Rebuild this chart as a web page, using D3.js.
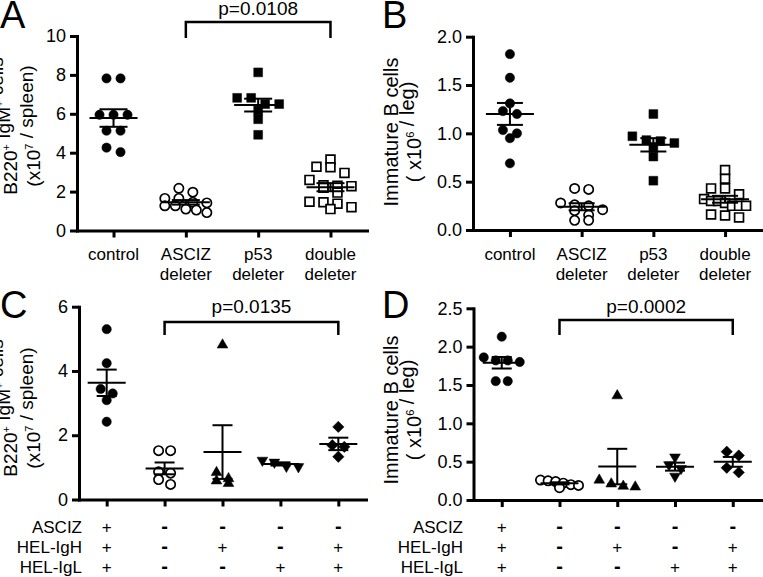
<!DOCTYPE html>
<html><head><meta charset="utf-8">
<script src="https://cdn.jsdelivr.net/npm/d3@7/dist/d3.min.js"></script>
<style>
body{margin:0;background:#fff}
svg{display:block}
text{font-family:"Liberation Sans",Arial,Helvetica,sans-serif;fill:#000}
</style>
</head><body>
<svg id="chart" width="763" height="577"></svg>
<script>
// ---------------- DATA ----------------
const catsAB = ["control", "ASCIZ deleter", "p53 deleter", "double deleter"];
const catLinesAB = [["control"], ["ASCIZ", "deleter"], ["p53", "deleter"], ["double", "deleter"]];
const catsCD = ["+/+/+", "-/-/-", "-/+/-", "-/-/+", "-/+/+"];
const tableRowLabels = ["ASCIZ", "HEL-IgH", "HEL-IgL"];
const tableASCIZ = ["+", "-", "-", "-", "-"];
const tableIgH   = ["+", "-", "+", "-", "+"];
const tableIgL   = ["+", "-", "-", "+", "+"];

// Panel A: B220+ IgM+ cells (x10^7 / spleen)
const aControl = [7.82, 7.82, 5.95, 5.95, 5.95, 5.13, 5.13, 4.26, 4.03];
const aASCIZ   = [2.17, 1.97, 1.65, 1.65, 1.45, 1.42, 1.27, 1.27, 1.1, 1.05, 0.92];
const aP53     = [8.13, 6.82, 6.82, 6.5, 6.5, 6.17, 5.72, 4.92];
const aDouble  = [3.65, 3.28, 3.25, 2.96, 2.6, 2.32, 2.3, 2.28, 2.2, 1.95, 1.48, 1.45, 1.38, 1.2, 1.1];
// Panel B: Immature B cells (x10^6 / leg)
const bControl = [1.82, 1.575, 1.31, 1.23, 1.2, 1.034, 1.0, 0.95, 0.69];
const bASCIZ   = [0.43, 0.42, 0.28, 0.26, 0.25, 0.21, 0.2, 0.155, 0.1, 0.1];
const bP53     = [1.2, 0.97, 0.93, 0.92, 0.9, 0.86, 0.76, 0.51];
const bDouble  = [0.62, 0.53, 0.43, 0.43, 0.37, 0.32, 0.3, 0.3, 0.28, 0.25, 0.25, 0.25, 0.16, 0.15, 0.13];
// Panel C: B220+ IgM+ cells (x10^7 / spleen)
const cG1 = [5.3, 4.24, 3.44, 3.3, 3.09, 2.42];
const cG2 = [1.52, 1.52, 0.86, 0.82, 0.62, 0.47];
const cG3 = [4.81, 0.84, 0.65, 0.58, 0.5];
const cG4 = [1.22, 1.16, 1.03, 1.02];
const cG5 = [2.26, 1.69, 1.64, 1.33];
// Panel D: Immature B cells (x10^6 / leg)
const dG1 = [2.13, 1.86, 1.82, 1.82, 1.8, 1.55, 1.55];
const dG2 = [0.26, 0.25, 0.24, 0.22, 0.2, 0.19, 0.16];
const dG3 = [1.36, 0.26, 0.21, 0.18, 0.17];
const dG4 = [0.56, 0.46, 0.41, 0.31];
const dG5 = [0.63, 0.58, 0.42, 0.36];

const ticksA = [0, 2, 4, 6, 8, 10];
const ticksB = [0, 0.5, 1.0, 1.5, 2.0];
const ticksC = [0, 2, 4, 6];
const ticksD = [0, 0.5, 1.0, 1.5, 2.0, 2.5];
const pA = "p=0.0108", pC = "p=0.0135", pD = "p=0.0002";
const symbolsAB = ["circleF", "circleO", "squareF", "squareO"];
const symbolsCD = ["circleF", "circleO", "triUp", "triDown", "diamond"];

// ---------------- DRAW ----------------
const svg = d3.select("#chart");

function symbolPath(kind) {
  if (kind.startsWith("circle")) return d3.symbol().type(d3.symbolCircle).size(68)();
  if (kind.startsWith("square")) return d3.symbol().type(d3.symbolSquare).size(78)();
  if (kind.startsWith("tri")) return d3.symbol().type(d3.symbolTriangle).size(50)();
  if (kind === "diamond") return d3.symbol().type(d3.symbolSquare).size(64)();
}
function symbolRot(kind) {
  if (kind === "triDown") return 180;
  if (kind === "diamond") return 45;
  return 0;
}
function isOpen(kind) { return kind.endsWith("O"); }

function swarm(vals, y, cx, binH, sp, maxW) {
  const pts = vals.map(v => ({v, py: y(v)})).sort((a, b) => a.py - b.py);
  const bins = []; let cur = null;
  pts.forEach(p => {
    if (!cur || p.py - cur[0].py > binH) { cur = [p]; bins.push(cur); }
    else cur.push(p);
  });
  bins.forEach(b => {
    const n = b.length;
    const s = n > 1 ? Math.min(sp, maxW / (n - 1)) : 0;
    b.forEach((p, i) => p.px = cx + (i - (n - 1) / 2) * s);
  });
  return pts;
}

function drawPanel(cfg) {
  const g = svg.append("g");
  const y = d3.scaleLinear().domain([0, cfg.ymax]).range([cfg.y0, cfg.yTop]);
  const x = d3.scalePoint().domain(cfg.cats).range([cfg.axisX, cfg.xEnd]).padding(cfg.pad);

  // y axis
  const ya = g.append("g").attr("transform", `translate(${cfg.axisX},0)`)
    .call(d3.axisLeft(y).tickValues(cfg.ticks).tickSize(7).tickSizeOuter(0).tickPadding(4)
      .tickFormat(cfg.fmt));
  ya.select(".domain").attr("stroke", "#000").attr("stroke-width", 3).attr("stroke-linecap", "square");
  ya.selectAll(".tick line").attr("stroke", "#000").attr("stroke-width", 3);
  ya.selectAll(".tick text").style("font-size", "18px").attr("fill", "#000")
    .style("font-family", '"Liberation Sans", Arial, sans-serif');

  // x axis
  const xa = g.append("g").attr("transform", `translate(0,${cfg.y0})`)
    .call(d3.axisBottom(x).tickSize(7).tickSizeOuter(0).tickFormat(""));
  xa.select(".domain").attr("stroke", "#000").attr("stroke-width", 3).attr("stroke-linecap", "square");
  xa.selectAll(".tick line").attr("stroke", "#000").attr("stroke-width", 3);

  // points + mean/SEM
  cfg.groups.forEach((vals, i) => {
    const cx = x(cfg.cats[i]);
    const kind = cfg.symbols[i];
    const pts = swarm(vals, y, cx, cfg.binH, cfg.sp, cfg.maxW);
    g.append("g").selectAll("path").data(pts).join("path")
      .attr("d", symbolPath(kind))
      .attr("transform", d => `translate(${d.px},${d.py}) rotate(${symbolRot(kind)})`)
      .attr("fill", isOpen(kind) ? "#fff" : "#000")
      .attr("stroke", "#000")
      .attr("stroke-width", isOpen(kind) ? 1.7 : 0.5);
    const m = d3.mean(vals);
    const sem = d3.deviation(vals) / Math.sqrt(vals.length);
    const lg = g.append("g").attr("stroke", "#000").attr("stroke-width", 2);
    lg.append("line").attr("x1", cx - cfg.meanW).attr("x2", cx + cfg.meanW).attr("y1", y(m)).attr("y2", y(m));
    lg.append("line").attr("x1", cx - cfg.semW).attr("x2", cx + cfg.semW).attr("y1", y(m + sem)).attr("y2", y(m + sem));
    lg.append("line").attr("x1", cx - cfg.semW).attr("x2", cx + cfg.semW).attr("y1", y(m - sem)).attr("y2", y(m - sem));
    lg.append("line").attr("x1", cx).attr("x2", cx).attr("y1", y(m + sem)).attr("y2", y(m - sem));
  });

  // bracket
  if (cfg.br) {
    const bx1 = x(cfg.cats[cfg.br[0]]), bx2 = x(cfg.cats[cfg.br[1]]);
    g.append("path")
      .attr("d", `M${bx1},${cfg.brLeg}V${cfg.brTop}H${bx2}V${cfg.brLeg}`)
      .attr("fill", "none").attr("stroke", "#000").attr("stroke-width", 2.5);
    g.append("text").attr("x", (bx1 + bx2) / 2).attr("y", cfg.pY).attr("text-anchor", "middle")
      .style("font-size", "19px").text(cfg.pText);
  }

  // panel letter
  g.append("text").attr("x", cfg.letterX).attr("y", cfg.letterY).style("font-size", "38px").text(cfg.letter);

  // y label
  const yc = cfg.labelY;
  cfg.ylabel.forEach((parts, li) => {
    const t = g.append("text")
      .attr("transform", `translate(${cfg.labelX[li]},${yc}) rotate(-90)`)
      .attr("text-anchor", "middle").style("font-size", cfg.labelFS + "px");
    parts.forEach(p => {
      if (p.sup) {
        t.append("tspan").attr("dy", -7).style("font-size", "11px").text(p.t);
        t.append("tspan").attr("dy", 7).text("");
      } else {
        t.append("tspan").text(p.t);
      }
    });
  });

  // category labels
  if (cfg.catLines) {
    cfg.cats.forEach((c, i) => {
      cfg.catLines[i].forEach((ln, j) => {
        g.append("text").attr("x", x(c)).attr("y", cfg.catY + j * 20)
          .attr("text-anchor", "middle").style("font-size", "17px").text(ln);
      });
    });
  }
  // table
  if (cfg.table) {
    cfg.table.forEach((row, r) => {
      const ty = cfg.tableY + r * 20;
      g.append("text").attr("x", cfg.tableLabelX).attr("y", ty).attr("text-anchor", "end")
        .style("font-size", "17px").text(tableRowLabels[r]);
      row.forEach((s, i) => {
        g.append("text").attr("x", x(cfg.cats[i])).attr("y", ty).attr("text-anchor", "middle")
          .style("font-size", s === "-" ? "20px" : "17px").style("font-weight", s === "-" ? "bold" : "normal").text(s);
      });
    });
  }
}

const ylabAC = [
  [{t: "B220"}, {t: "+", sup: true}, {t: " IgM"}, {t: "+", sup: true}, {t: " cells"}],
  [{t: "(x10"}, {t: "7", sup: true}, {t: " / spleen)"}]
];
const ylabBD = [
  [{t: "Immature B cells"}],
  [{t: "( x10"}, {t: "6", sup: true}, {t: " / leg)"}]
];

drawPanel({
  letter: "A", letterX: 0, letterY: 28,
  cats: catsAB, catLines: catLinesAB, groups: [aControl, aASCIZ, aP53, aDouble], symbols: symbolsAB,
  ymax: 10, y0: 230.5, yTop: 36, axisX: 77, xEnd: 367, pad: 0.505,
  ticks: ticksA, fmt: d3.format("d"),
  binH: 7, sp: 14, maxW: 42, meanW: 24, semW: 14,
  br: [1, 3], brTop: 22, brLeg: 38, pY: 15, pText: pA,
  ylabel: ylabAC, labelFS: 19, labelX: [17, 40], labelY: 126, catY: 260
});
drawPanel({
  letter: "B", letterX: 382, letterY: 28,
  cats: catsAB, catLines: catLinesAB, groups: [bControl, bASCIZ, bP53, bDouble], symbols: symbolsAB,
  ymax: 2, y0: 230, yTop: 36.7, axisX: 473, xEnd: 762, pad: 0.515,
  ticks: ticksB, fmt: d3.format(".1f"),
  binH: 7, sp: 14, maxW: 42, meanW: 24, semW: 13,
  br: null, ylabel: ylabBD, labelFS: 20, labelX: [398, 421], labelY: 132, catY: 260
});
drawPanel({
  letter: "C", letterX: 0, letterY: 318,
  cats: catsCD, catLines: null, groups: [cG1, cG2, cG3, cG4, cG5], symbols: symbolsCD,
  ymax: 6, y0: 499.5, yTop: 306.7, axisX: 79, xEnd: 366, pad: 0.478,
  ticks: ticksC, fmt: d3.format("d"),
  binH: 7, sp: 12, maxW: 38, meanW: 19, semW: 10,
  br: [1, 4], brTop: 322, brLeg: 335, pY: 313, pText: pC,
  ylabel: ylabAC, labelFS: 19, labelX: [17, 40], labelY: 408,
  table: [tableASCIZ, tableIgH, tableIgL], tableY: 533, tableLabelX: 82
});
drawPanel({
  letter: "D", letterX: 382, letterY: 318,
  cats: catsCD, catLines: null, groups: [dG1, dG2, dG3, dG4, dG5], symbols: symbolsCD,
  ymax: 2.5, y0: 500, yTop: 308.3, axisX: 473.5, xEnd: 761, pad: 0.489,
  ticks: ticksD, fmt: d3.format(".1f"),
  binH: 7, sp: 12, maxW: 38, meanW: 19, semW: 10,
  br: [1, 4], brTop: 320, brLeg: 335, pY: 313, pText: pD,
  ylabel: ylabBD, labelFS: 20, labelX: [398, 421], labelY: 410,
  table: [tableASCIZ, tableIgH, tableIgL], tableY: 533, tableLabelX: 463
});
</script>
</body></html>
